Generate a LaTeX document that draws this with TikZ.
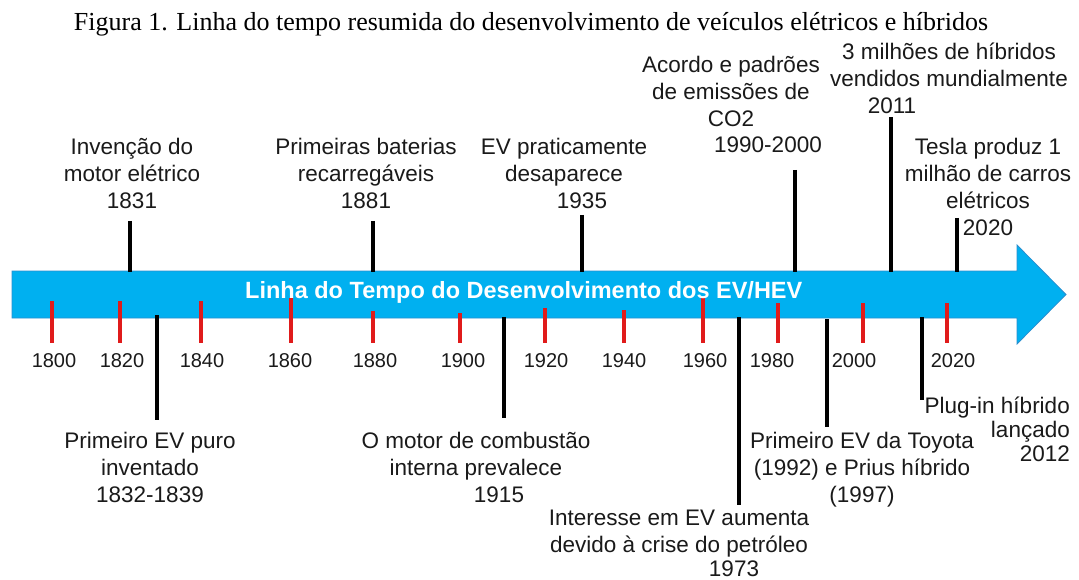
\documentclass[tikz,border=0pt]{standalone}
\usepackage{fontspec}
\setmainfont{Liberation Sans}
\newfontfamily\titlefont{Liberation Serif}
\definecolor{arrowblue}{HTML}{00B0F0}
\definecolor{arrowedge}{HTML}{2A8FCF}
\definecolor{tickred}{HTML}{E01B1B}
\definecolor{txt}{HTML}{1A1A1A}
\begin{document}
\begin{tikzpicture}[x=1pt,y=-1pt,
  lbl/.style={font=\fontsize{22.5}{27}\selectfont, align=center, inner sep=0pt, anchor=base, text=txt},
  yrlbl/.style={font=\fontsize{20}{24}\selectfont, inner sep=0pt, anchor=base, text=txt},
  redtick/.style={draw=tickred, line width=4pt},
  evline/.style={draw=black, line width=4.5pt}]
\useasboundingbox (0,0) rectangle (1079,580);
\fill[white] (0,0) rectangle (1079,580);

% title
\node[font=\titlefont\fontsize{26}{30}\selectfont, anchor=base, inner sep=0pt] (title) at (531,31)
  {Figura 1. Linha do tempo resumida do desenvolvimento de veículos elétricos e híbridos};

% arrow
\draw[fill=arrowblue, draw=arrowedge, line width=0.8pt]
  (12,271) -- (1017,271) -- (1017,245) -- (1066,294.5) -- (1017,344) -- (1017,318) -- (12,318) -- cycle;

% red ticks
\foreach \x/\t in {52/301,120/301,201/301,291/298,373/311,460/313,545/308,624/310,703/298,778/303,863/303,947/303}
  \draw[redtick] (\x,\t) -- (\x,343);

\node[font=\bfseries\fontsize{23.5}{28}\selectfont, text=white, anchor=base west, inner sep=0pt] (atext) at (245,298)
  {Linha do Tempo do Desenvolvimento dos EV/HEV};

% year labels
\foreach \x/\y in {54/1800,122/1820,202/1840,290/1860,375/1880,463/1900,546/1920,624/1940,705/1960,772/1980,854/2000,953/2020}
  \node[yrlbl] (y\y) at (\x,367) {\y};

% event lines above
\coordinate (a1831t) at (130,221);   \coordinate (a1831b) at (130,272);
\coordinate (a1881t) at (373,221);   \coordinate (a1881b) at (373,272);
\coordinate (a1935t) at (582,215);   \coordinate (a1935b) at (582,272);
\coordinate (a1990t) at (795,170);   \coordinate (a1990b) at (795,272);
\coordinate (a2011t) at (891,117);   \coordinate (a2011b) at (891,272);
\coordinate (a2020t) at (957,218);   \coordinate (a2020b) at (957,272);
\foreach \n in {1831,1881,1935,1990,2011,2020}
  \draw[evline] (a\n t) -- (a\n b);

% event lines below
\coordinate (b1832t) at (157,315);  \coordinate (b1832b) at (157,420);
\coordinate (b1915t) at (504,317);  \coordinate (b1915b) at (504,418);
\coordinate (b1973t) at (739,317);  \coordinate (b1973b) at (739,505);
\coordinate (b1992t) at (827,319);  \coordinate (b1992b) at (827,427);
\coordinate (b2012t) at (922,317);  \coordinate (b2012b) at (922,400);
\foreach \n in {1832,1915,1973,1992,2012}
  \draw[evline] (b\n t) -- (b\n b);

% labels above (anchor = baseline of last line)
\node[lbl] (l1831) at (132,209) {Invenção do\\motor elétrico\\1831};
\node[lbl] (l1881) at (366,209) {Primeiras baterias\\recarregáveis\\1881};
\node[lbl] (l1935) at (564,182) {EV praticamente\\desaparece};
\node[lbl] (l1935y) at (582,209) {1935};
\node[lbl] (l1990) at (731,127) {Acordo e padrões\\de emissões de\\CO2};
\node[lbl] (l1990y) at (768,153) {1990-2000};
\node[lbl] (l2011) at (949,87) {3 milhões de híbridos\\vendidos mundialmente};
\node[lbl] (l2011y) at (892,114) {2011};
\node[lbl] (l2020) at (988,236) {Tesla produz 1\\milhão de carros\\elétricos\\2020};

% labels below
\node[lbl] (l1832) at (150,502) {Primeiro EV puro\\inventado\\1832-1839};
\node[lbl] (l1915) at (476,475) {O motor de combustão\\interna prevalece};
\node[lbl] (l1915y) at (499,502) {1915};
\node[lbl] (l1973) at (679,552) {Interesse em EV aumenta\\devido à crise do petróleo};
\node[lbl] (l1973y) at (734,576) {1973};
\node[lbl] (l1992) at (862,502) {Primeiro EV da Toyota\\(1992) e Prius híbrido\\(1997)};
\node[lbl, font=\fontsize{22.5}{24}\selectfont, align=right, anchor=base east] (l2012) at (1070,461) {Plug-in híbrido\\lançado\\2012};
\end{tikzpicture}
\end{document}
